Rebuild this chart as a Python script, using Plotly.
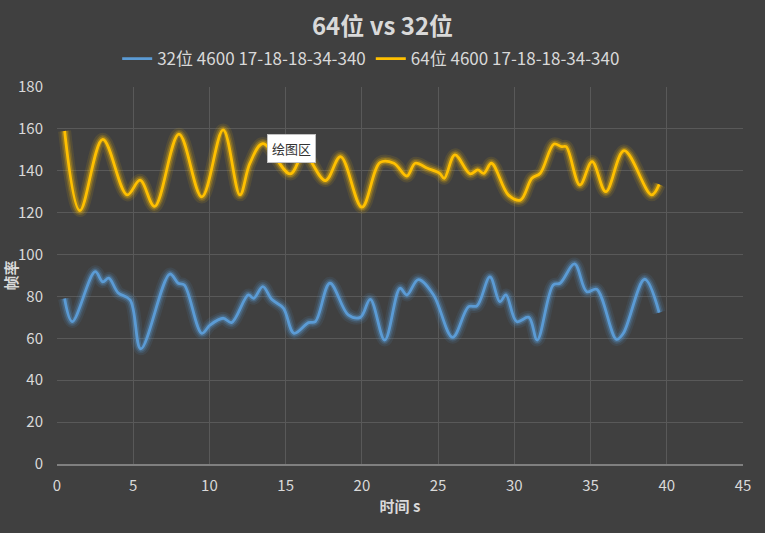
import plotly.graph_objects as go

# 64位 series (time s, fps)
t64 = [0.5, 1.5, 3.0, 4.6, 5.45, 6.4, 8.0, 9.5, 10.9, 12.0, 12.65, 13.5, 15.3, 16.2,
       17.6, 18.6, 20.0, 21.2, 22.1, 22.95, 23.5, 24.3, 25.1, 25.4, 26.1, 27.1, 27.6,
       28.0, 28.5, 29.6, 30.4, 31.15, 31.7, 32.6, 33.1, 33.4, 34.3, 35.1, 36.0, 37.2,
       39.0, 39.5]
v64 = [159, 121, 155, 128.5, 135.5, 123, 157.5, 127.5, 159.5, 128.5, 143.5, 153, 138.5, 148,
       135.3, 146.8, 122.6, 144, 143.6, 137.5, 143.6, 141.2, 138.8, 136.4, 147.6, 138.5, 140.4,
       138.8, 143.6, 128.5, 126, 136.4, 138.8, 152.8, 151.5, 151.5, 133.2, 144.4, 130, 149.6,
       128.5, 133.5]

# 32位 series
t32 = [0.5, 1.0, 2.5, 3.0, 3.4, 4.0, 4.8, 5.5, 7.4, 7.95, 8.35, 9.5, 10.05, 10.9, 11.45,
       12.55, 12.9, 13.5, 14.1, 14.85, 15.55, 16.5, 16.95, 17.9, 19.1, 19.9, 20.55, 21.5,
       22.5, 22.95, 23.7, 24.7, 25.95, 27.0, 27.55, 28.4, 29.05, 29.45, 30.15, 30.95, 31.5,
       32.55, 33.0, 33.95, 34.75, 35.4, 36.7, 37.15, 38.55, 39.5]
v32 = [79, 68, 91.8, 87, 88.7, 81.8, 78.3, 55, 90.7, 86.3, 85.5, 62.4, 66.4, 69.6, 67.5,
       80.7, 79.1, 84.7, 78.5, 74.4, 62.4, 67.5, 68, 86.3, 71.2, 70, 78.6, 59.2,
       83.9, 80.7, 88, 80.7, 60.5, 75.1, 75.5, 89.3, 77.5, 80.7, 68, 70, 59.2,
       85.5, 86.3, 95.5, 82.3, 83.4, 59.5, 62.4, 88.2, 72.3]

name32 = "32位 4600 17-18-18-34-340"
name64 = "64位 4600 17-18-18-34-340"
title = "64位 vs 32位"
x_title = "时间 s"
y_title = "帧率"
note = "绘图区"

c32 = "#5b9bd5"
c64 = "#ffc000"
FONT = "Noto Sans CJK SC"

fig = go.Figure()

def add_series(t, v, color, name, rgb):
    for w, a in [(13, 0.10), (9, 0.17), (6, 0.30)]:
        fig.add_trace(go.Scatter(x=t, y=v, mode="lines",
                                 line=dict(color=f"rgba({rgb},{a})", width=w, shape="spline", smoothing=1.0),
                                 showlegend=False, hoverinfo="skip"))
    fig.add_trace(go.Scatter(x=t, y=v, mode="lines", name=name,
                             line=dict(color=color, width=2.8, shape="spline", smoothing=1.0)))

add_series(t32, v32, c32, name32, "91,155,213")
add_series(t64, v64, c64, name64, "255,192,0")

fig.add_annotation(x=13.75, y=150.5, xref="x", yref="y", text=note, showarrow=False,
                   xanchor="left", yanchor="middle", bgcolor="white",
                   bordercolor="#c0c0c0", borderwidth=1, borderpad=4,
                   font=dict(family=FONT, size=13, color="#333333"))

fig.update_layout(
    width=765, height=533,
    paper_bgcolor="#404040", plot_bgcolor="#404040",
    margin=dict(l=57, r=22, t=87, b=69),
    font=dict(family=FONT, color="#d9d9d9"),
    title=dict(text=f"<b>{title}</b>", x=0.5, xanchor="center", y=0.951, yanchor="middle",
               yref="container", font=dict(family=FONT, size=24, color="#d9d9d9")),
    legend=dict(orientation="h", x=0.458, xanchor="center", y=1.074, yanchor="middle",
                font=dict(family=FONT, size=17, color="#d9d9d9"), bgcolor="rgba(0,0,0,0)",
                itemwidth=30, traceorder="normal"),
    showlegend=True,
)
fig.update_xaxes(range=[0, 45], dtick=5, tick0=0, showgrid=True, gridcolor="#595959", gridwidth=1,
                 zeroline=False, showline=True, linecolor="#808080", linewidth=1.5,
                 ticks="", ticklabelstandoff=7, tickfont=dict(family=FONT, size=15, color="#d9d9d9"),
                 title=dict(text=f"<b>{x_title}</b>", font=dict(family=FONT, size=15, color="#d9d9d9"), standoff=8),
                 automargin=False)
fig.update_yaxes(range=[0, 180], dtick=20, tick0=0, showgrid=True, gridcolor="#595959", gridwidth=1,
                 zeroline=False, showline=False,
                 ticks="", ticklabelstandoff=13, tickfont=dict(family=FONT, size=15, color="#d9d9d9"),
                 title=dict(text=f"<b>{y_title}</b>", font=dict(family=FONT, size=15, color="#d9d9d9"), standoff=2),
                 automargin=False)

fig.write_html("out.html", config={"displayModeBar": False},
               post_script="document.body.style.margin='0';document.body.style.background='#404040';")
